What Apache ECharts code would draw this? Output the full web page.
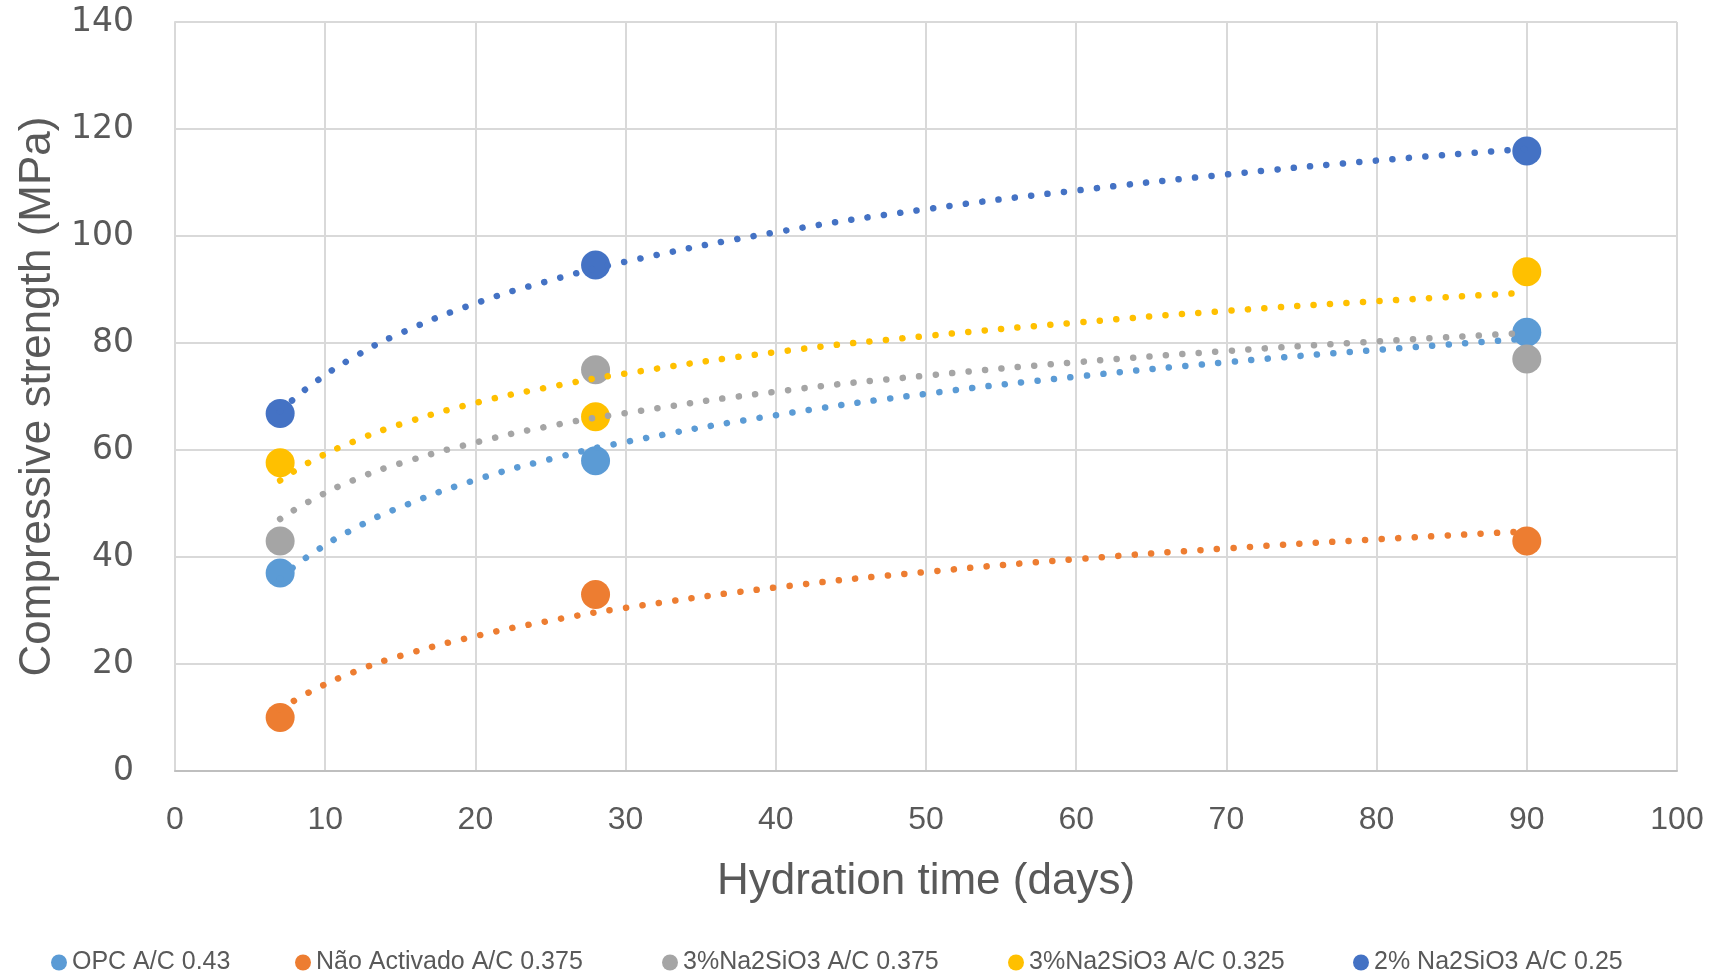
<!DOCTYPE html>
<html>
<head>
<meta charset="utf-8">
<script src="https://cdn.jsdelivr.net/npm/echarts@6/dist/echarts.min.js"></script>
<style>
html,body{margin:0;padding:0;background:#fff;}
#chart{width:1716px;height:974px;}
</style>
</head>
<body>
<div id="chart"></div>
<script>
// Measured points (days, MPa)
const days = [7, 28, 90];
const seriesNames = ['OPC A/C 0.43', 'Não Activado A/C 0.375', '3%Na2SiO3 A/C 0.375', '3%Na2SiO3 A/C 0.325', '2% Na2SiO3 A/C 0.25'];
const opc = [37, 58, 82];
const naoActivado = [10, 33, 43];
const na3_0375 = [43, 75, 77];
const na3_0325 = [57.6, 66.2, 93.3];
const na2_025 = [66.8, 94.6, 115.9];

// Dotted trend lines (days, MPa)
const trendDays = [7, 9, 12, 15, 20, 25, 30, 40, 50, 60, 70, 80, 90];
const trendOpc = [36.0, 40.4, 45.4, 49.3, 54.4, 58.3, 61.5, 66.5, 70.5, 73.7, 76.4, 78.7, 80.8];
const trendNao = [11.5, 14.8, 18.6, 21.5, 25.2, 28.1, 30.5, 34.3, 37.2, 39.6, 41.6, 43.3, 44.8];
const trend0375 = [47.1, 50.5, 54.5, 57.5, 61.4, 64.5, 66.9, 70.9, 73.9, 76.4, 78.5, 80.3, 81.9];
const trend0325 = [54.3, 57.8, 61.7, 64.8, 68.8, 71.8, 74.3, 78.3, 81.3, 83.8, 86.0, 87.8, 89.4];
const trend025 = [67.2, 72.0, 77.5, 81.8, 87.4, 91.7, 95.2, 100.7, 105.0, 108.5, 111.5, 114.1, 116.3];

const xTicks = [0, 10, 20, 30, 40, 50, 60, 70, 80, 90, 100];
const yTicks = [0, 20, 40, 60, 80, 100, 120, 140];

const colors = ['#5B9BD5', '#ED7D31', '#A5A5A5', '#FFC000', '#4472C4'];
const values = [opc, naoActivado, na3_0375, na3_0325, na2_025];
const trends = [trendOpc, trendNao, trend0375, trend0325, trend025];
const legendLefts = [51, 295, 662, 1008, 1353];

const sans = '"Liberation Sans", Arial, sans-serif';

const series = [];
values.forEach((vals, i) => {
  series.push({
    name: seriesNames[i],
    type: 'scatter',
    data: days.map((d, k) => [d, vals[k]]),
    symbol: 'circle',
    symbolSize: 29,
    itemStyle: { color: colors[i], opacity: 1 },
    emphasis: { disabled: true },
    z: 2
  });
});
trends.forEach((vals, i) => {
  series.push({
    name: seriesNames[i] + ' trend',
    type: 'line',
    data: trendDays.map((d, k) => [d, vals[k]]),
    smooth: true,
    showSymbol: false,
    silent: true,
    lineStyle: { color: colors[i], width: 6.5, type: [0.1, 16.4], cap: 'round' },
    z: 3
  });
});

const legends = seriesNames.map((n, i) => ({
  data: [n],
  left: legendLefts[i],
  top: 950,
  padding: 0,
  icon: 'circle',
  itemWidth: 16,
  itemHeight: 16,
  itemGap: 0,
  textStyle: { color: '#595959', fontSize: 25, fontFamily: sans }
}));

const chart = echarts.init(document.getElementById('chart'));
chart.setOption({
  animation: false,
  backgroundColor: '#ffffff',
  grid: { left: 175, right: 39, top: 22, bottom: 203 },
  legend: legends,
  xAxis: {
    type: 'value',
    min: 0, max: 100, interval: 10,
    name: 'Hydration time (days)',
    nameLocation: 'middle',
    nameGap: 89,
    nameTextStyle: { color: '#595959', fontSize: 44, fontFamily: sans },
    axisLine: { show: true, lineStyle: { color: '#BFBFBF', width: 2 } },
    axisTick: { show: false },
    axisLabel: { color: '#595959', fontSize: 32, fontFamily: sans, margin: 33,
      formatter: v => xTicks.includes(v) ? String(v) : '' },
    splitLine: { show: true, lineStyle: { color: '#D9D9D9', width: 2 } }
  },
  yAxis: {
    type: 'value',
    min: 0, max: 140, interval: 20,
    name: 'Compressive strength (MPa)',
    nameLocation: 'middle',
    nameGap: 114,
    nameTextStyle: { color: '#595959', fontSize: 44, fontFamily: sans },
    axisLine: { show: true, lineStyle: { color: '#D9D9D9', width: 2 } },
    axisTick: { show: false },
    axisLabel: { color: '#595959', fontSize: 33, fontFamily: '"DejaVu Sans", sans-serif', margin: 41,
      formatter: v => yTicks.includes(v) ? String(v) : '' },
    splitLine: { show: true, lineStyle: { color: '#D9D9D9', width: 2 } }
  },
  series: series
});
</script>
</body>
</html>
